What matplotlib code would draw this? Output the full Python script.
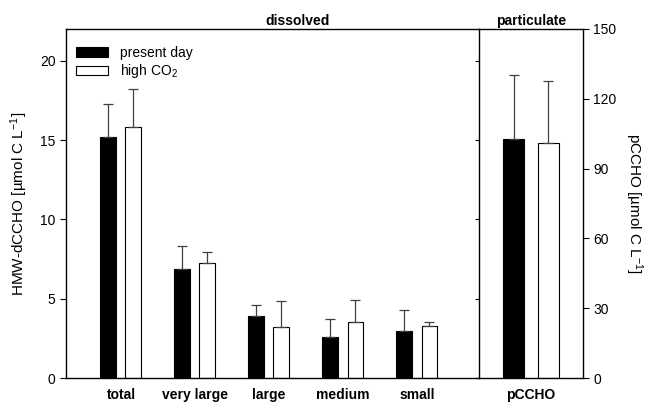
import matplotlib
matplotlib.use("Agg")
import matplotlib.pyplot as plt
import numpy as np

plt.rcParams['font.family'] = ['Liberation Sans', 'DejaVu Sans']
plt.rcParams['mathtext.fontset'] = 'custom'
plt.rcParams['mathtext.rm'] = 'Liberation Sans'
plt.rcParams['mathtext.it'] = 'Liberation Sans'

# dissolved fractions (left axis)
size_classes = ["total", "very large", "large", "medium", "small"]
present_day = [15.2, 6.9, 3.9, 2.6, 2.95]
present_err = [2.1, 1.45, 0.7, 1.15, 1.35]
high_co2 = [15.8, 7.25, 3.2, 3.55, 3.25]
high_err = [2.4, 0.7, 1.65, 1.35, 0.27]

# particulate (right axis)
part_label = ["pCCHO"]
part_present = [102.6]
part_present_err = [27.5]
part_high = [101.1]
part_high_err = [26.7]

fig = plt.figure(figsize=(6.49, 4.03), dpi=100)
W, H = 649.0, 403.0
bot = (H - 378) / H
hgt = (378 - 29) / H
ax1 = fig.add_axes([66 / W, bot, (479 - 66) / W, hgt])
ax2 = fig.add_axes([479 / W, bot, (583 - 479) / W, hgt])
ax2.set_facecolor('none')

err_kw = dict(ecolor='#404040', elinewidth=0.9, capsize=3.8, capthick=0.9)
fs = 10

# left panel
x = np.arange(len(size_classes))
bw = 0.216
off = 0.169
ax1.bar(x - off, present_day, bw, color='black', edgecolor='black', linewidth=0.8,
        yerr=[np.zeros(len(x)), present_err], error_kw=err_kw, label='present day')
ax1.bar(x + off, high_co2, bw, color='white', edgecolor='black', linewidth=0.8,
        yerr=[np.zeros(len(x)), high_err], error_kw=err_kw, label='high CO$_2$')
ax1.set_xlim(-0.743, 4.838)
ax1.set_ylim(0, 22)
ax1.set_yticks([0, 5, 10, 15, 20])
ax1.set_xticks(x)
ax1.set_xticklabels(size_classes, fontweight='bold', fontsize=fs)
ax1.tick_params(axis='x', length=0, pad=7)
ax1.tick_params(axis='y', direction='out', length=4, labelsize=fs, width=0.8,
                right=True)
ax1.set_ylabel(r'HMW-dCCHO [µmol C L$^{-1}$]', fontsize=11, labelpad=7)
ax1.legend(loc='upper left', frameon=False, fontsize=fs, handlelength=2.3,
           handleheight=0.7, borderaxespad=0.3, labelspacing=0.2,
           handletextpad=0.9, bbox_to_anchor=(0.0, 0.98))
ax1.set_title('dissolved', fontweight='bold', fontsize=fs, pad=3, x=0.56)
# mirror ticks pointing inward on the right spine
for t in ax1.yaxis.get_major_ticks():
    t.tick2line.set_marker(matplotlib.lines.TICKLEFT)
    t.tick2line.set_markersize(3)

# right panel
xp = np.arange(len(part_label))
bw2 = 0.284
off2 = 0.23
ax2.bar(xp - off2, part_present, bw2, color='black', edgecolor='black', linewidth=0.8,
        yerr=[[0], part_present_err], error_kw=err_kw)
ax2.bar(xp + off2, part_high, bw2, color='white', edgecolor='black', linewidth=0.8,
        yerr=[[0], part_high_err], error_kw=err_kw)
ax2.set_xlim(-0.703, 0.703)
ax2.set_ylim(0, 150)
ax2.set_yticks([0, 30, 60, 90, 120, 150])
ax2.yaxis.tick_right()
ax2.yaxis.set_label_position('right')
ax2.set_xticks(xp)
ax2.set_xticklabels(part_label, fontweight='bold', fontsize=fs)
ax2.tick_params(axis='x', length=0, pad=7)
ax2.tick_params(axis='y', direction='out', length=4, labelsize=fs, width=0.8)
ax2.set_ylabel(r'pCCHO [µmol C L$^{-1}$]', fontsize=11, rotation=-90, labelpad=20)
ax2.set_title('particulate', fontweight='bold', fontsize=fs, pad=3)

for ax in (ax1, ax2):
    for s in ax.spines.values():
        s.set_linewidth(1.0)
ax2.spines['left'].set_visible(False)

fig.savefig('out.png', dpi=100)
